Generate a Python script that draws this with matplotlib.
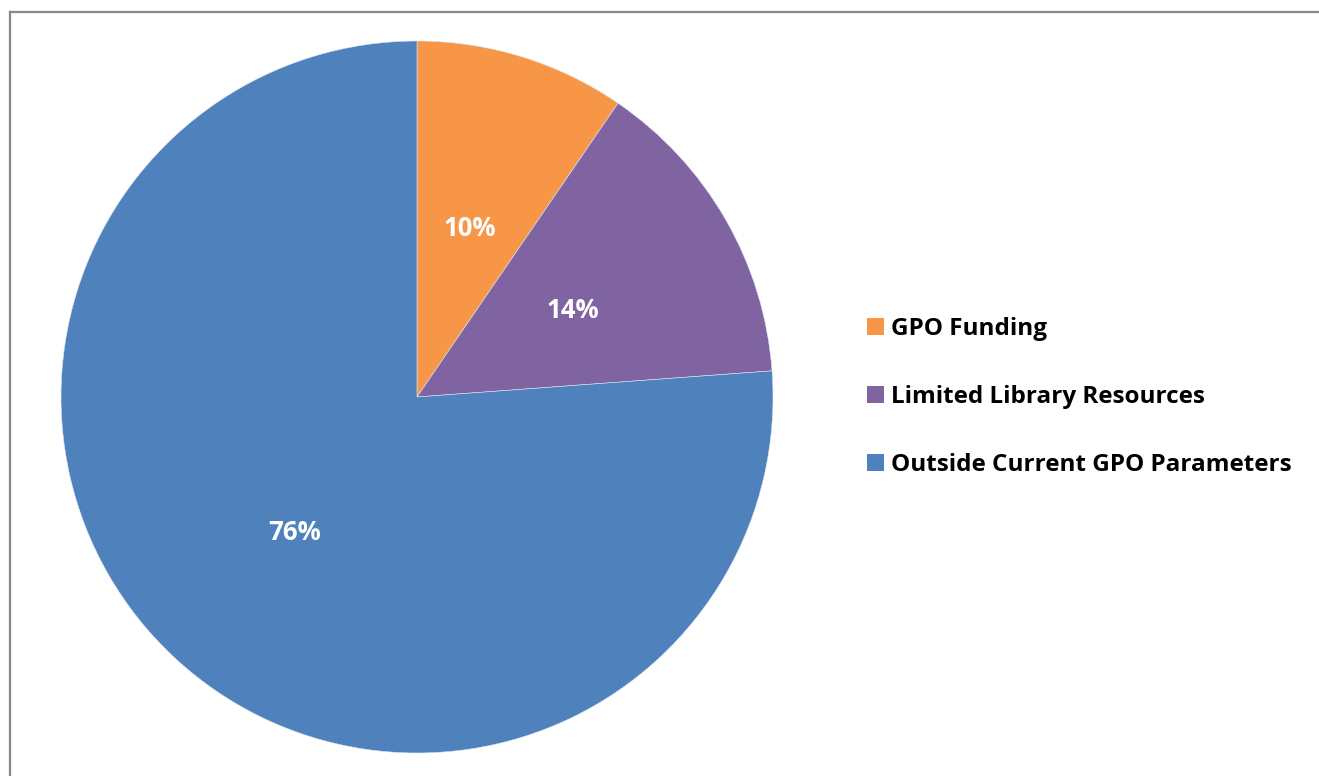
import matplotlib
matplotlib.use('Agg')
import matplotlib.pyplot as plt
from matplotlib.lines import Line2D
from matplotlib.patches import Patch

# shares; text labels as printed on the chart
categories = ['GPO Funding', 'Limited Library Resources', 'Outside Current GPO Parameters']
shares = [9.55, 14.28, 76.17]
pct_labels = ['10%', '14%', '76%']
colors = ['#F79646', '#8064A2', '#4F81BD']

plt.rcParams['font.family'] = ['Open Sans', 'DejaVu Sans']

W, H = 1319, 776
fig = plt.figure(figsize=(W / 100, H / 100), dpi=100)
fig.patch.set_facecolor('white')

# pie centre (417, 397) px, radius 356 px
cx, cy, r = 417, 397, 356
ax = fig.add_axes([(cx - r) / W, (H - cy - r) / H, 2 * r / W, 2 * r / H])
wedges, texts, autotexts = ax.pie(
    shares, colors=colors, startangle=90, counterclock=False,
    radius=1, autopct=lambda p: '', pctdistance=0.505,
    wedgeprops=dict(linewidth=0.4, edgecolor='#dde6f0'))
for t, lab in zip(autotexts, pct_labels):
    t.set_text(lab)
    t.set_color('white')
    t.set_fontsize(18.5)
    t.set_fontweight('bold')
    x, y = t.get_position()
    t.set_position((x, y - 0.01))  # Open Sans sits a bit high vs the original font
ax.set_xlim(-1, 1)
ax.set_ylim(-1, 1)
ax.set_aspect('equal')
ax.axis('off')

handles = [Patch(facecolor=c, edgecolor='none') for c in colors]
leg = fig.legend(handles, categories, loc='center left',
                 bbox_to_anchor=(857 / W, (H - 397) / H),
                 frameon=False, prop=dict(size=17.5, weight='bold'),
                 handlelength=0.7, handleheight=0.7, handletextpad=0.28,
                 labelspacing=1.82, borderaxespad=0)

# chart border (only top and left edges visible in the crop)
fig.add_artist(Line2D([9.5 / W, 1.0], [(H - 11.5) / H, (H - 11.5) / H],
                      transform=fig.transFigure, color='#888888', lw=1.6))
fig.add_artist(Line2D([9.5 / W, 9.5 / W], [0.0, (H - 11.5) / H],
                      transform=fig.transFigure, color='#888888', lw=1.6))

fig.savefig('out.png', dpi=100)
